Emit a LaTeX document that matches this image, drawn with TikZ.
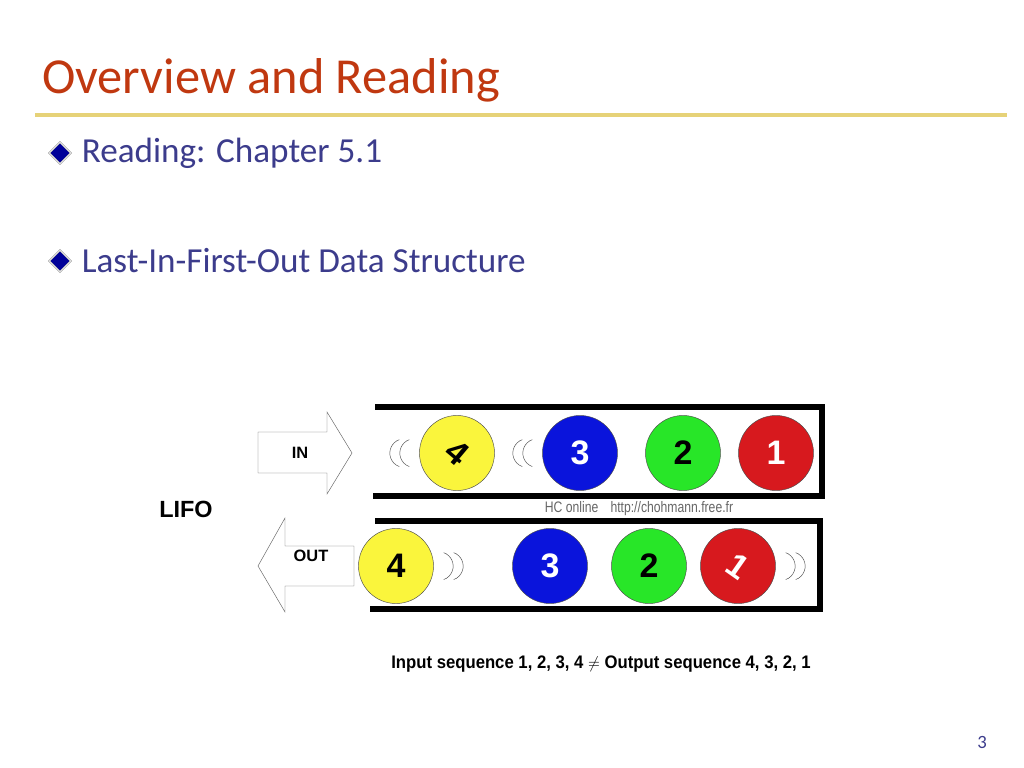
\documentclass[tikz,border=0pt]{standalone}
\usepackage{fontspec}
\setmainfont{Carlito}
\newfontfamily\arialfont{Liberation Sans}
\usetikzlibrary{shapes, shapes.geometric, positioning}
\definecolor{titleRed}{RGB}{192,56,16}
\definecolor{bodyBlue}{RGB}{60,60,140}
\definecolor{goldLine}{RGB}{230,210,120}
\definecolor{ballYellow}{RGB}{250,245,60}
\definecolor{ballBlue}{RGB}{10,20,220}
\definecolor{ballGreen}{RGB}{40,230,40}
\definecolor{ballRed}{RGB}{215,25,30}
\tikzstyle{ball}=[circle, draw=black!70, minimum size=2.25cm, inner sep=0pt, font=\arialfont\bfseries\fontsize{29}{29}\selectfont]
\tikzstyle{tube}=[line width=5pt]
\tikzstyle{bullet}=[diamond, draw=gray, fill=blue!60!black, double=white, minimum size=0.65cm, inner sep=0pt]
\tikzstyle{bigarrow}=[draw=black!60, fill=white, thin]
\tikzstyle{waves}=[black!70, thin]
\begin{document}
\begin{tikzpicture}[x=0.03cm, y=-0.03cm]
      \useasboundingbox (0,0) rectangle (1024,768);

      % heading
      \node[anchor=west, text=titleRed, font=\fontsize{43}{46}\selectfont] (title) at (38,80) {Overview and Reading};
      \draw[goldLine, line width=3pt] (35,115) -- (1007,115);

      \node[bullet] (bullet1) at (60,153) {};
      \node[right=0.2cm of bullet1, text=bodyBlue, font=\fontsize{30}{32}\selectfont] (reading) {Reading: Chapter 5.1};
      \node[bullet] (bullet2) at (60,261) {};
      \node[right=0.2cm of bullet2, text=bodyBlue, font=\fontsize{30}{32}\selectfont] (lifoText) {Last-In-First-Out Data Structure};

      % tubes
      \draw[tube] (375,407) -- (822,407) -- (822,496) -- (373,496);
      \draw[tube] (375,521) -- (820,521) -- (820,609) -- (370,609);

      % arrows
      \draw[bigarrow] (258,432) -- (327,432) -- (327,412) -- (352,453) -- (327,494) -- (327,473) -- (258,473) -- cycle;
      \draw[bigarrow] (354,546) -- (285,546) -- (285,518) -- (258,566) -- (285,612) -- (285,586) -- (354,586) -- cycle;
      \node[font=\arialfont\bfseries\fontsize{14}{14}\selectfont] (inLabel) at (300,453) {IN};
      \node[font=\arialfont\bfseries\fontsize{14}{14}\selectfont] (outLabel) at (311,556) {OUT};
      \node[font=\arialfont\bfseries\fontsize{20}{20}\selectfont] (lifo) at (186,509) {LIFO};

      % balls
      \foreach \n/\x/\y/\c/\t/\v/\r in {in4/457/453/ballYellow/black/4/-40, in3/580/453/ballBlue/white/3/0,
          in2/683/453/ballGreen/black/2/0, in1/776/453/ballRed/white/1/0,
          out4/396/566/ballYellow/black/4/0, out3/550/566/ballBlue/white/3/0,
          out2/649/566/ballGreen/black/2/0, out1/738/566/ballRed/white/1/-35}{
        \node[ball, fill=\c, text=\t] (\n) at (\x,\y) {\rotatebox{\r}{\v}};
      }

      % sound waves
      \foreach \n in {in4, in3}{
        \draw[waves] ([xshift=-0.6cm]\n.west) ++(0,0.4cm) arc[start angle=110, end angle=250, radius=0.43cm];
        \draw[waves] ([xshift=-0.3cm]\n.west) ++(0,0.4cm) arc[start angle=110, end angle=250, radius=0.43cm];
      }
      \foreach \n in {out4, out1}{
        \draw[waves] ([xshift=0.3cm]\n.east) ++(0,0.4cm) arc[start angle=70, end angle=-70, radius=0.43cm];
        \draw[waves] ([xshift=0.6cm]\n.east) ++(0,0.4cm) arc[start angle=70, end angle=-70, radius=0.43cm];
      }

      % credits and caption
      \node[text=black!60, font=\arialfont\fontsize{13}{13}\selectfont, xscale=0.8] (credit) at (639,509) {HC online\quad http://chohmann.free.fr};
      \node[font=\arialfont\bfseries\fontsize{15.5}{16}\selectfont, xscale=0.92] (caption) at (601,664) {Input sequence 1, 2, 3, 4 $\neq$ Output sequence 4, 3, 2, 1};
      \node[text=bodyBlue, font=\fontsize{16}{16}\selectfont] (page) at (982,742) {3};
    \end{tikzpicture}
\end{document}
